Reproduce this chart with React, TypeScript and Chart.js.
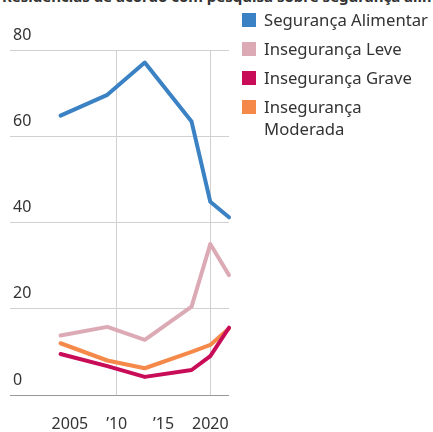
import React, { useEffect, useRef } from "react";
import { Chart, registerables } from "chart.js";

Chart.register(...registerables);

const years = [2004, 2009, 2013, 2018, 2020, 2022];
const seguranca = [64.8, 69.6, 77.1, 63.4, 44.8, 41.2];
const leve = [13.8, 15.8, 12.8, 20.5, 35.0, 27.8];
const grave = [9.5, 6.7, 4.2, 5.8, 9.0, 15.6];
const moderada = [12.0, 8.0, 6.2, 10.0, 11.6, 15.4];
const xTicks = [2005, 2010, 2015, 2020];
const xTickLabels = ["2005", "’10", "’15", "2020"];
const xGridYears = [2010, 2020];
const yTicks = [0, 20, 40, 60, 80];

const seriesNames = ["Segurança Alimentar", "Insegurança Leve", "Insegurança Grave", "Insegurança Moderada"];
const seriesColors = ["#3b82c4", "#dcaab5", "#c80c58", "#f5894a"];

const FONT = "'Noto Sans', 'Open Sans', sans-serif";

export default function App() {
  const ref = useRef<HTMLCanvasElement | null>(null);
  useEffect(() => {
    document.body.style.margin = "0";
    const ctx = ref.current!;
    const allSeries = [seguranca, leve, grave, moderada];
    const chart = new Chart(ctx, {
      type: "line",
      data: {
        datasets: allSeries.map((s, i) => ({
          label: seriesNames[i],
          data: years.map((y, j) => ({ x: y, y: s[j] })),
          borderColor: seriesColors[i],
          backgroundColor: seriesColors[i],
          borderWidth: 4,
          pointRadius: 0,
          tension: 0,
          clip: false as any,
          borderJoinStyle: "round" as const,
          borderCapStyle: "round" as const,
        })),
      },
      options: {
        animation: false,
        responsive: false,
        maintainAspectRatio: false,
        layout: { padding: { left: 10, right: 204, top: 50, bottom: 0 } },
        plugins: { legend: { display: false }, tooltip: { enabled: false } },
        scales: {
          x: {
            type: "linear",
            min: 1998.6,
            max: 2022,
            afterBuildTicks: (s: any) => {
              s.ticks = xTicks.map((v) => ({ value: v }));
            },
            afterFit: (s: any) => {
              s.height = 37;
            },
            ticks: {
              autoSkip: false,
              maxRotation: 0,
              padding: 20,
              color: "#333",
              font: { family: FONT, size: 16 },
              callback: (v: any) => {
                const i = xTicks.indexOf(Number(v));
                return i >= 0 ? xTickLabels[i] : "";
              },
            },
            grid: {
              drawTicks: false,
              color: (c: any) => (c.tick && xGridYears.includes(c.tick.value) ? "#d0d0d0" : "rgba(0,0,0,0)"),
              lineWidth: 1,
            },
            border: { display: false },
          },
          y: {
            min: 0,
            max: 80,
            afterBuildTicks: (s: any) => {
              s.ticks = yTicks.map((v) => ({ value: v }));
            },
            afterFit: (s: any) => {
              s.width = 0;
            },
            ticks: {
              mirror: true,
              padding: 3,
              labelOffset: -15,
              color: "#333",
              font: { family: FONT, size: 16 },
            },
            grid: {
              drawTicks: false,
              color: (c: any) => (c.tick && c.tick.value === 0 ? "#999" : "#d0d0d0"),
              lineWidth: 1,
            },
            border: { display: false },
          },
        },
      },
    });
    return () => chart.destroy();
  }, []);

  return (
    <div style={{ position: "relative", width: 433, height: 432, overflow: "hidden", background: "#fff" }}>
      <div
        style={{
          position: "absolute",
          left: 2,
          top: -14,
          whiteSpace: "nowrap",
          fontFamily: FONT,
          fontSize: 15,
          fontWeight: 700,
          color: "#333",
        }}
      >
        Residências de acordo com pesquisa sobre segurança alimentar, em %
      </div>
      <canvas ref={ref} width={433} height={432} style={{ position: "absolute", left: 0, top: 0 }} />
      <div style={{ position: "absolute", left: 242, top: 9, fontFamily: FONT, fontSize: 16.7, color: "#333" }}>
        {seriesNames.map((n, i) => (
          <div key={n} style={{ display: "flex", alignItems: "flex-start", marginBottom: 7, lineHeight: "22px" }}>
            <span
              style={{
                display: "inline-block",
                width: 14,
                height: 14,
                background: seriesColors[i],
                marginTop: 4,
                marginRight: 8,
                flex: "none",
              }}
            />
            <span style={{ width: 170 }}>{n === "Insegurança Moderada" ? <>Insegurança<br />Moderada</> : n}</span>
          </div>
        ))}
      </div>
    </div>
  );
}
